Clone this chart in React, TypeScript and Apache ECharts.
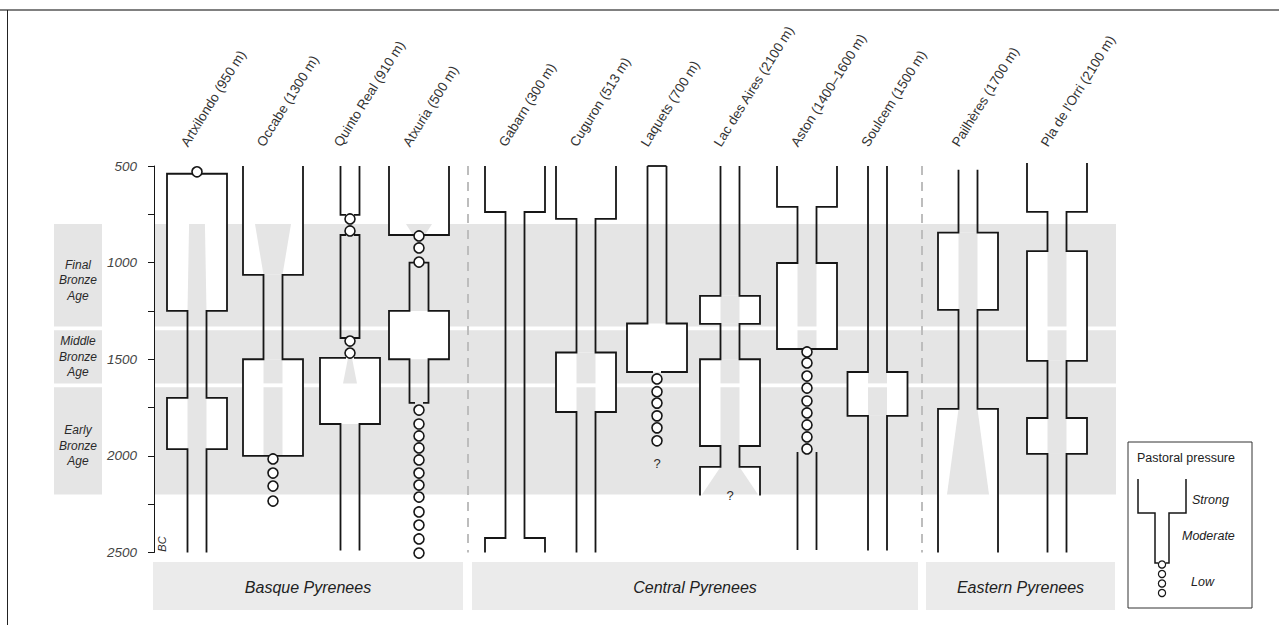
import React, { useEffect, useRef } from 'react';
import * as echarts from 'echarts';

// ---------- data ----------
const SITES = [
  'Artxilondo (950 m)',
  'Occabe (1300 m)',
  'Quinto Real (910 m)',
  'Atxuria (500 m)',
  'Gabarn (300 m)',
  'Cuguron (513 m)',
  'Laquets (700 m)',
  'Lac des Aires (2100 m)',
  'Aston (1400–1600 m)',
  'Soulcem (1500 m)',
  'Pailhères (1700 m)',
  "Pla de l'Orri (2100 m)",
];
const REGIONS = ['Basque Pyrenees', 'Central Pyrenees', 'Eastern Pyrenees'];
const PERIODS = ['Final\nBronze\nAge', 'Middle\nBronze\nAge', 'Early\nBronze\nAge'];
const PERIOD_START = [800, 1350, 1645];
const PERIOD_END = [1330, 1625, 2200];
const YEAR_LABELS = [500, 1000, 1500, 2000, 2500];

// pastoral pressure segments: [from BC, to BC, level S=strong M=moderate L=low, closed top]
const ARTXILONDO = [[520, 540, 'L'], [540, 1250, 'S'], [1250, 1700, 'M'], [1700, 1965, 'S'], [1965, 2500, 'M']];
const OCCABE = [[500, 1063, 'S'], [1063, 1500, 'M'], [1500, 2000, 'S'], [2000, 2240, 'L']];
const QUINTO_REAL = [[500, 753, 'M'], [753, 857, 'L'], [857, 1390, 'M'], [1390, 1493, 'L'], [1493, 1835, 'S'], [1835, 2490, 'M']];
const ATXURIA = [[500, 857, 'S'], [857, 1000, 'L'], [1000, 1250, 'M'], [1250, 1500, 'S'], [1500, 1726, 'M'], [1726, 2510, 'L']];
const GABARN = [[500, 738, 'S'], [738, 2425, 'M'], [2425, 2500, 'S']];
const CUGURON = [[500, 774, 'S'], [774, 1465, 'M'], [1465, 1773, 'S'], [1773, 2500, 'M']];
const LAQUETS = [[500, 1315, 'M', 1], [1315, 1566, 'S'], [1566, 1930, 'L']];
const LAC_DES_AIRES = [[500, 1172, 'M'], [1172, 1317, 'S'], [1317, 1500, 'M'], [1500, 1949, 'S'], [1949, 2057, 'M'], [2057, 2205, 'S']];
const ASTON = [[500, 712, 'S'], [712, 1002, 'M'], [1002, 1447, 'S'], [1447, 1964, 'L'], [1980, 2487, 'M']];
const SOULCEM = [[500, 1566, 'M'], [1566, 1793, 'S'], [1793, 2490, 'M']];
const PAILHERES = [[520, 845, 'M'], [845, 1245, 'S'], [1245, 1757, 'M'], [1757, 2500, 'S']];
const PLA_DE_LORRI = [[485, 737, 'S'], [737, 940, 'M'], [940, 1508, 'S'], [1508, 1804, 'M'], [1804, 1990, 'S'], [1990, 2500, 'M']];
const SEGMENTS: any[][] = [ARTXILONDO, OCCABE, QUINTO_REAL, ATXURIA, GABARN, CUGURON, LAQUETS, LAC_DES_AIRES, ASTON, SOULCEM, PAILHERES, PLA_DE_LORRI];

// low pressure dates (circles)
const ARTXILONDO_LOW = [530];
const OCCABE_LOW = [2016, 2089, 2156, 2234];
const QUINTO_REAL_LOW = [774, 836, 1406, 1468];
const ATXURIA_LOW = [862, 924, 997, 1763, 1835, 1897, 1959, 2021, 2089, 2151, 2213, 2290, 2358, 2430, 2503];
const LAQUETS_LOW = [1602, 1668, 1727, 1793, 1855, 1922];
const ASTON_LOW = [1462, 1519, 1587, 1649, 1716, 1778, 1840, 1902, 1964];
const LOW: number[][] = [ARTXILONDO_LOW, OCCABE_LOW, QUINTO_REAL_LOW, ATXURIA_LOW, [], [], LAQUETS_LOW, [], ASTON_LOW, [], [], []];

// transitional (grey) zones inside strong phases: [from, to, half width at from, half width at to]
const TRANSITIONS: number[][][] = [
  [[540, 1250, 7, 9.5], [1700, 1965, 9.5, 9.5]],
  [[800, 1063, 18, 9.5], [1500, 2000, 9.5, 9.5]],
  [[1493, 1625, 2, 7]],
  [[800, 857, 13, 6]],
  [],
  [[1465, 1773, 9.5, 9.5]],
  [],
  [[1172, 1317, 9.5, 9.5], [1500, 1949, 9.5, 9.5], [2057, 2200, 9.5, 28]],
  [[1002, 1447, 9.5, 9.5]],
  [[1566, 1793, 9.5, 9.5]],
  [[845, 1245, 9.5, 9.5], [1757, 2200, 9.5, 21]],
  [[940, 1508, 9.5, 9.5], [1804, 1990, 9.5, 9.5]],
];
// uncertain dates: [site index, BC]
const UNCERTAIN = [[6, 2042], [7, 2207]];

// ---------- layout ----------
const SITE_X = [197, 273, 350, 419, 515, 586, 657, 730, 807, 877.5, 968, 1057];
const HW: Record<string, number> = { S: 30, M: 9.5, L: 4 };
const SEPARATOR_X = [468, 922];
const REGION_X = [[153, 463], [472, 918], [926, 1115]];
const BAND_X = [155, 1116];
const LABEL_BOX_X = [54, 102];
const FONT = "'Liberation Sans', Arial, sans-serif";
const INK = '#161616';
const GREY = '#e5e5e5';
const TEXT = '#2a2a2a';

function sidePaths(segs: any[], cx: number, s: number) {
  const paths: number[][][] = [];
  let cur: number[][] | null = null;
  for (let i = 0; i < segs.length; i++) {
    const [a, b, lv] = segs[i];
    const prev = i > 0 && segs[i - 1][1] === a ? segs[i - 1] : null;
    const x = cx + s * HW[lv];
    if (lv === 'L') {
      if (cur) {
        cur.push([cx + s * HW.L, a]);
        paths.push(cur);
        cur = null;
      }
      continue;
    }
    if (prev) {
      if (prev[2] === 'L' || !cur) cur = [[cx + s * HW.L, a]];
      cur.push([x, a]);
    } else {
      if (cur) paths.push(cur);
      cur = [[x, a]];
    }
    cur.push([x, b]);
    const next = i < segs.length - 1 && segs[i + 1][0] === b ? segs[i + 1] : null;
    if (!next) {
      paths.push(cur);
      cur = null;
    }
  }
  if (cur) paths.push(cur);
  return paths;
}

function buildOption(): any {
  const circleData: number[][] = [];
  LOW.forEach((arr, i) => arr.forEach((y) => circleData.push([SITE_X[i], y])));

  const legendX = 1128;
  const legendY = 442;

  return {
    animation: false,
    grid: { left: 154, right: 1279 - 1116, top: 166, bottom: 72.5 },
    xAxis: { type: 'value', min: 154, max: 1116, show: false },
    yAxis: {
      type: 'value',
      inverse: true,
      min: 500,
      max: 2500,
      interval: 250,
      axisLine: { show: true, lineStyle: { color: INK, width: 1 } },
      axisTick: { show: true, length: 6, lineStyle: { color: INK, width: 1 } },
      splitLine: { show: false },
      axisLabel: {
        margin: 17,
        color: '#444',
        fontFamily: FONT,
        fontSize: 13.5,
        fontStyle: 'italic',
        fontWeight: 'normal',
        formatter: (v: number) => (YEAR_LABELS.includes(v) ? String(v) : ''),
      },
    },
    series: [
      {
        type: 'custom',
        z: 1,
        data: PERIOD_START.map((s, i) => [i, s]),
        renderItem: (params: any, api: any) => {
          const i = params.dataIndex;
          const p0 = api.coord([BAND_X[0], PERIOD_START[i]]);
          const p1 = api.coord([BAND_X[1], PERIOD_END[i]]);
          const l0 = api.coord([LABEL_BOX_X[0], PERIOD_START[i]]);
          const l1 = api.coord([LABEL_BOX_X[1], PERIOD_END[i]]);
          const h = p1[1] - p0[1];
          return {
            type: 'group',
            children: [
              { type: 'rect', shape: { x: p0[0], y: p0[1], width: p1[0] - p0[0], height: h }, style: { fill: GREY } },
              { type: 'rect', shape: { x: l0[0], y: l0[1], width: l1[0] - l0[0], height: l1[1] - l0[1] }, style: { fill: GREY } },
              {
                type: 'text',
                x: (l0[0] + l1[0]) / 2,
                y: (l0[1] + l1[1]) / 2 + (h > 70 ? 5 : 0),
                style: {
                  text: PERIODS[i],
                  fill: TEXT,
                  fontFamily: FONT,
                  fontSize: 12,
                  fontStyle: 'italic',
                  lineHeight: 15.5,
                  align: 'center',
                  verticalAlign: 'middle',
                },
              },
            ],
          };
        },
      },
      {
        type: 'custom',
        z: 2,
        data: SITES.map((_, i) => [SITE_X[i], 500]),
        renderItem: (params: any, api: any) => {
          const i = params.dataIndex;
          const cx = SITE_X[i];
          const children: any[] = [];
          SEGMENTS[i].forEach(([a, b, lv]) => {
            if (lv !== 'S') return;
            const p0 = api.coord([cx - HW.S, a]);
            const p1 = api.coord([cx + HW.S, b]);
            children.push({ type: 'rect', shape: { x: p0[0], y: p0[1], width: p1[0] - p0[0], height: p1[1] - p0[1] }, style: { fill: '#fff' } });
          });
          TRANSITIONS[i].forEach(([g0, g1, h0, h1]) => {
            PERIOD_START.forEach((bs, k) => {
              const a = Math.max(g0, bs);
              const c = Math.min(g1, PERIOD_END[k]);
              if (a >= c) return;
              const ha = h0 + ((h1 - h0) * (a - g0)) / (g1 - g0);
              const hc = h0 + ((h1 - h0) * (c - g0)) / (g1 - g0);
              children.push({
                type: 'polygon',
                shape: { points: [api.coord([cx - ha, a]), api.coord([cx + ha, a]), api.coord([cx + hc, c]), api.coord([cx - hc, c])] },
                style: { fill: GREY },
              });
            });
          });
          return { type: 'group', children };
        },
      },
      {
        type: 'custom',
        z: 3,
        data: SEPARATOR_X.map((x) => [x, 500]),
        renderItem: (params: any, api: any) => {
          const x = SEPARATOR_X[params.dataIndex];
          const p0 = api.coord([x, 500]);
          const p1 = api.coord([x, 2500]);
          return {
            type: 'line',
            shape: { x1: p0[0], y1: p0[1], x2: p1[0], y2: p1[1] },
            style: { stroke: '#bdbdbd', lineWidth: 2, lineDash: [9, 7] },
          };
        },
      },
      {
        type: 'custom',
        z: 4,
        data: SITES.map((_, i) => [SITE_X[i], 500]),
        renderItem: (params: any, api: any) => {
          const i = params.dataIndex;
          const cx = SITE_X[i];
          const segs = SEGMENTS[i];
          const children: any[] = [];
          [-1, 1].forEach((s) => {
            sidePaths(segs, cx, s).forEach((path) => {
              children.push({
                type: 'polyline',
                shape: { points: path.map((p) => api.coord(p)) },
                style: { stroke: INK, lineWidth: 1.8, fill: null, lineJoin: 'miter' },
              });
            });
          });
          segs.forEach(([a, , lv, closed]) => {
            if (!closed) return;
            const p0 = api.coord([cx - HW[lv], a]);
            const p1 = api.coord([cx + HW[lv], a]);
            children.push({ type: 'line', shape: { x1: p0[0], y1: p0[1], x2: p1[0], y2: p1[1] }, style: { stroke: INK, lineWidth: 1.8 } });
          });
          const anchor = api.coord([cx - 7, 500]);
          children.push({
            type: 'text',
            x: anchor[0],
            y: anchor[1] - 17,
            rotation: (58 * Math.PI) / 180,
            style: { text: SITES[i], fill: '#333', fontFamily: FONT, fontSize: 13.5, fontWeight: 'normal', align: 'left', verticalAlign: 'bottom' },
          });
          UNCERTAIN.forEach(([si, yr]) => {
            if (si !== i) return;
            const p = api.coord([cx, yr]);
            children.push({
              type: 'text',
              x: p[0],
              y: p[1],
              style: { text: '?', fill: TEXT, fontFamily: FONT, fontSize: 13, align: 'center', verticalAlign: 'middle' },
            });
          });
          return { type: 'group', children };
        },
      },
      {
        type: 'scatter',
        z: 5,
        clip: false,
        symbol: 'circle',
        symbolSize: 10,
        itemStyle: { color: '#fff', borderColor: INK, borderWidth: 1.6, opacity: 1 },
        emphasis: { disabled: true },
        data: circleData,
      },
    ],
    graphic: [
      { type: 'line', shape: { x1: 0, y1: 10, x2: 1279, y2: 10 }, style: { stroke: '#808080', lineWidth: 2 } },
      { type: 'line', shape: { x1: 7.5, y1: 10, x2: 7.5, y2: 625 }, style: { stroke: '#222', lineWidth: 1 } },
      {
        type: 'text',
        x: 162,
        y: 544,
        rotation: Math.PI / 2,
        style: { text: 'BC', fill: TEXT, fontFamily: FONT, fontSize: 11, fontStyle: 'italic', align: 'center', verticalAlign: 'middle' },
      },
      ...REGION_X.map(([x0, x1], i) => ({
        type: 'group',
        children: [
          { type: 'rect', shape: { x: x0, y: 562, width: x1 - x0, height: 48 }, style: { fill: '#ebebeb' } },
          {
            type: 'text',
            x: (x0 + x1) / 2,
            y: 587,
            style: { text: REGIONS[i], fill: '#222', fontFamily: FONT, fontSize: 16, fontStyle: 'italic', align: 'center', verticalAlign: 'middle' },
          },
        ],
      })),
      {
        type: 'group',
        children: [
          { type: 'rect', shape: { x: legendX, y: legendY, width: 124, height: 166 }, style: { fill: '#fff', stroke: '#333', lineWidth: 1 } },
          { type: 'text', x: 1137, y: 458, style: { text: 'Pastoral pressure', fill: '#222', fontFamily: FONT, fontSize: 12.5, align: 'left', verticalAlign: 'middle' } },
          { type: 'polyline', shape: { points: [[1138, 479], [1138, 513], [1155, 513], [1155, 563], [1158, 563]] }, style: { stroke: INK, lineWidth: 1.5, fill: null } },
          { type: 'polyline', shape: { points: [[1186, 479], [1186, 513], [1169, 513], [1169, 563], [1166, 563]] }, style: { stroke: INK, lineWidth: 1.5, fill: null } },
          ...[564.5, 574, 583.5, 593].map((cy) => ({ type: 'circle', shape: { cx: 1162, cy, r: 3.6 }, style: { fill: '#fff', stroke: INK, lineWidth: 1.2 } })),
          { type: 'text', x: 1192, y: 500, style: { text: 'Strong', fill: '#222', fontFamily: FONT, fontSize: 12.5, fontStyle: 'italic', align: 'left', verticalAlign: 'middle' } },
          { type: 'text', x: 1182, y: 536, style: { text: 'Moderate', fill: '#222', fontFamily: FONT, fontSize: 12.5, fontStyle: 'italic', align: 'left', verticalAlign: 'middle' } },
          { type: 'text', x: 1191, y: 582, style: { text: 'Low', fill: '#222', fontFamily: FONT, fontSize: 12.5, fontStyle: 'italic', align: 'left', verticalAlign: 'middle' } },
        ],
      },
    ],
  };
}

export default function App() {
  const ref = useRef<HTMLDivElement>(null);
  useEffect(() => {
    const chart = echarts.init(ref.current!, null, { renderer: 'svg' });
    chart.setOption(buildOption());
    return () => chart.dispose();
  }, []);
  return <div ref={ref} style={{ position: 'fixed', left: 0, top: 0, width: 1279, height: 625, background: '#fff' }} />;
}
